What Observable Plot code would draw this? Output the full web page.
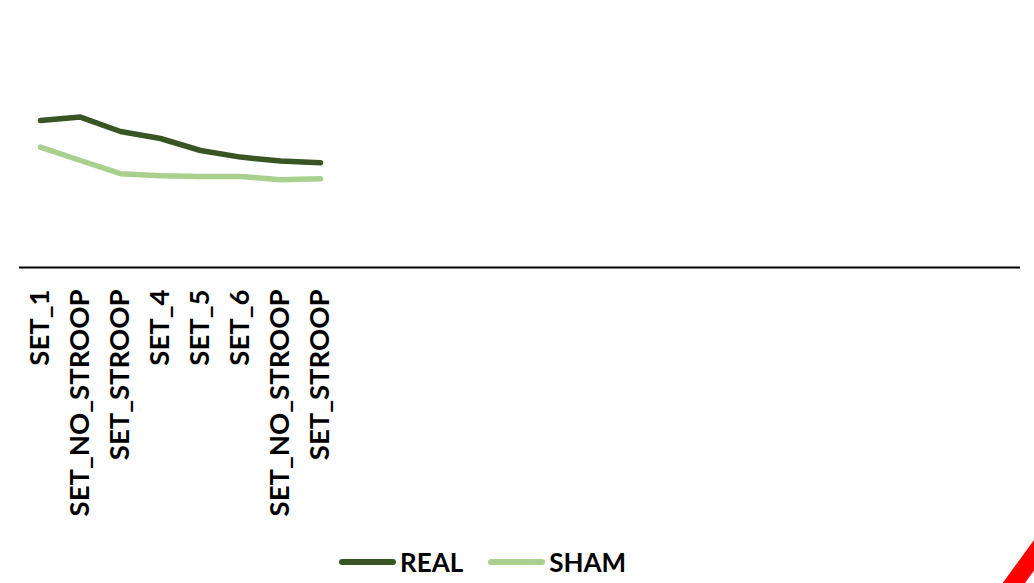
<!DOCTYPE html>
<html>
<head>
<meta charset="utf-8">
<script src="https://cdn.jsdelivr.net/npm/d3@7"></script>
<script src="https://cdn.jsdelivr.net/npm/@observablehq/plot@0.6"></script>
<style>
  html, body { margin: 0; padding: 0; background: #fff; overflow: hidden; }
  body { width: 1034px; height: 583px; position: relative; font-family: Lato, "Open Sans", sans-serif; }
  #chart svg { display: block; }
  #legend { position: absolute; left: 339px; top: 546px; display: flex; align-items: center; font-weight: 700; font-size: 26px; color: #000; }
  #legend .item { display: flex; align-items: center; margin-right: 25px; }
  #legend .swatch { width: 57px; height: 6px; border-radius: 3px; margin-right: 4px; }
  #corner { position: absolute; left: 984px; top: 560px; width: 80px; height: 18px; background: #ff0000; transform: rotate(-54deg); }
</style>
</head>
<body>
<div id="chart"></div>
<div id="legend"></div>
<div id="corner"></div>
<script>
// Category labels along the x axis (the remaining slots are left blank)
const categories = ["SET_1", "SET_NO_STROOP", "SET_STROOP", "SET_4", "SET_5", "SET_6", "SET_NO_STROOP", "SET_STROOP"];
const slotCount = 25;

// Series values per category
const seriesNames = ["REAL", "SHAM"];
const real = [735, 752, 680, 645, 585, 552, 532, 524];
const sham = [602, 535, 469, 459, 455, 455, 439, 444];
const seriesColors = ["#375623", "#A9D08E"];

const rows = [
  ...real.map((v, i) => ({i, value: v, series: "REAL"})),
  ...sham.map((v, i) => ({i, value: v, series: "SHAM"}))
];

const chart = Plot.plot({
  width: 1034,
  height: 530,
  marginLeft: 19,
  marginRight: 14,
  marginTop: 27,
  marginBottom: 263,
  style: {fontFamily: "Lato, 'Open Sans', sans-serif", background: "#fff", overflow: "visible"},
  x: {type: "point", domain: d3.range(slotCount), padding: 0.5, axis: null},
  y: {domain: [0, 1200], axis: null},
  color: {domain: seriesNames, range: seriesColors},
  marks: [
    Plot.axisX({
      tickSize: 0,
      tickPadding: 22,
      tickRotate: -90,
      fontSize: 27.5,
      fontWeight: 700,
      fill: "#000",
      tickFormat: (i) => categories[i] ?? "",
      label: null
    }),
    Plot.ruleY([0], {stroke: "#000", strokeWidth: 2}),
    Plot.line(rows, {
      x: "i",
      y: "value",
      z: "series",
      stroke: "series",
      strokeWidth: 5.5,
      strokeLinecap: "round",
      strokeLinejoin: "round"
    })
  ]
});
document.getElementById("chart").append(chart);

// Legend below the plot
const legend = document.getElementById("legend");
seriesNames.forEach((name, k) => {
  const item = document.createElement("div");
  item.className = "item";
  const sw = document.createElement("div");
  sw.className = "swatch";
  sw.style.background = seriesColors[k];
  const label = document.createElement("span");
  label.textContent = name;
  item.append(sw, label);
  legend.append(item);
});
</script>
</body>
</html>
